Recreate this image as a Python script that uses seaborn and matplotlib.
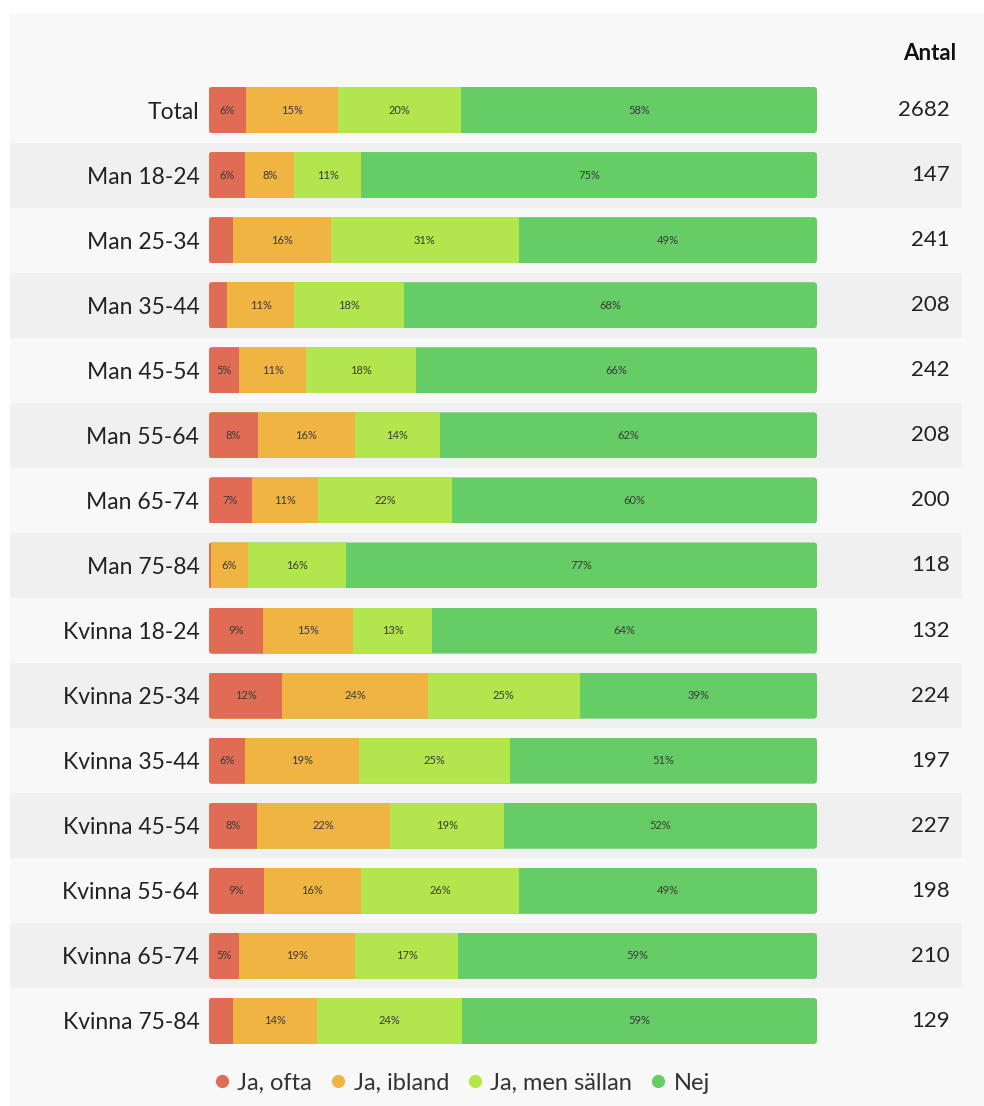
import matplotlib
matplotlib.use("Agg")
import matplotlib.pyplot as plt
import matplotlib.transforms as mtransforms
from matplotlib.patches import Rectangle, FancyBboxPatch
from matplotlib.lines import Line2D
import seaborn as sns
import pandas as pd
import numpy as np

groups = ["Total", "Man 18-24", "Man 25-34", "Man 35-44", "Man 45-54", "Man 55-64",
          "Man 65-74", "Man 75-84", "Kvinna 18-24", "Kvinna 25-34", "Kvinna 35-44",
          "Kvinna 45-54", "Kvinna 55-64", "Kvinna 65-74", "Kvinna 75-84"]
ja_ofta = [6, 6, 4, 3, 5, 8, 7, 0.3, 9, 12, 6, 8, 9, 5, 4]
ja_ibland = [15, 8, 16, 11, 11, 16, 11, 6, 15, 24, 19, 22, 16, 19, 14]
ja_sallan = [20, 11, 31, 18, 18, 14, 22, 16, 13, 25, 25, 19, 26, 17, 24]
nej = [58, 75, 49, 68, 66, 62, 60, 77, 64, 39, 51, 52, 49, 59, 59]
antal = [2682, 147, 241, 208, 242, 208, 200, 118, 132, 224, 197, 227, 198, 210, 129]
series_names = ["Ja, ofta", "Ja, ibland", "Ja, men sällan", "Nej"]
colors = ["#e06c56", "#f0b443", "#b3e64d", "#66cc66"]

sns.set_theme(style="white")
plt.rcParams["font.family"] = ["Lato", "DejaVu Sans"]

W, H = 984, 1106
fig = plt.figure(figsize=(W / 100, H / 100), dpi=100)
fig.patch.set_facecolor("white")
fig.patches.append(Rectangle((10 / W, 0), 1 - 10 / W, 1 - 13 / H, transform=fig.transFigure,
                             facecolor="#f8f8f8", edgecolor="none", zorder=-10))

n = len(groups)
row_h = 65.07
top_c = 110
ax_top = top_c - row_h / 2
ax_bot = top_c + row_h * (n - 1) + row_h / 2
x0, x1 = 209, 817
ax = fig.add_axes([x0 / W, 1 - ax_bot / H, (x1 - x0) / W, (ax_bot - ax_top) / H])
ax.set_facecolor("none")

vals = np.array([ja_ofta, ja_ibland, ja_sallan, nej], dtype=float)
pct = vals / vals.sum(axis=0) * 100
cum = np.cumsum(pct, axis=0)

bar_w = 0.707
df = pd.DataFrame({"group": groups})
for k in range(3, -1, -1):
    df["c"] = cum[k]
    sns.barplot(data=df, x="c", y="group", orient="h", color=colors[k], width=bar_w,
                saturation=1, edgecolor="none", linewidth=0, ax=ax, zorder=2)

ax.set_xlim(0, 100)
ax.set_ylim(n - 0.5, -0.5)

# rounded corners via clip paths
px_per_x = (x1 - x0) / 100
px_per_y = row_h
aspect = px_per_x / px_per_y
clips = []
for i in range(n):
    cp = FancyBboxPatch((0, i - bar_w / 2), 100, bar_w,
                        boxstyle="round,pad=0,rounding_size=0.55",
                        mutation_aspect=aspect, transform=ax.transData)
    clips.append(cp)
for p in ax.patches:
    yc = p.get_y() + p.get_height() / 2
    i = int(round(yc))
    if 0 <= i < n:
        p.set_clip_path(clips[i])

# alternating row bands
xa = (10 - x0) / (x1 - x0) * 100
xb = (962 - x0) / (x1 - x0) * 100
for i in range(n):
    if i % 2 == 1:
        ax.add_patch(Rectangle((xa, i - 0.5), xb - xa, 1, facecolor="#f0f0f0",
                               edgecolor="none", zorder=0, clip_on=False))

# segment labels
for i in range(n):
    for k in range(4):
        v = vals[k, i]
        if v >= 5:
            left = cum[k, i] - pct[k, i]
            ax.text(left + pct[k, i] / 2, i, f"{int(round(v))}%", ha="center", va="center",
                    fontsize=8, color="#3a3a3a", zorder=5)

ax.set_xlabel("")
ax.set_ylabel("")
ax.set_xticks([])
ax.set_yticks(range(n))
ax.set_yticklabels(groups, fontsize=16.5, color="#222222")
ax.tick_params(axis="y", length=0, pad=7)
for s in ax.spines.values():
    s.set_visible(False)

tr = mtransforms.blended_transform_factory(fig.transFigure, ax.transData)
for i in range(n):
    ax.text(950 / W, i, str(antal[i]), transform=tr, ha="right", va="center",
            fontsize=16, color="#222222")
fig.text(956 / W, 1 - 53 / H, "Antal", ha="right", va="center", fontsize=16,
         fontweight="bold", color="#111111")

handles = [Line2D([], [], marker="o", linestyle="none", markersize=9.5,
                  markerfacecolor=c, markeredgecolor="none") for c in colors]
fig.legend(handles, series_names, loc="center", bbox_to_anchor=(460 / W, 1 - 1083 / H),
           ncol=4, frameon=False, fontsize=17, handletextpad=0.15, columnspacing=0.6,
           handlelength=1.0, labelcolor="#333333")

fig.savefig("out.png", dpi=100, facecolor=fig.get_facecolor())
